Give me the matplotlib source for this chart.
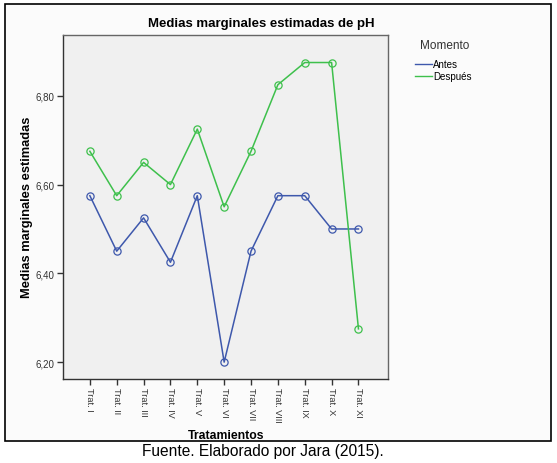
import matplotlib
matplotlib.use("Agg")
import matplotlib.pyplot as plt
from matplotlib.patches import Rectangle

plt.rcParams['font.family'] = ['Liberation Sans', 'DejaVu Sans']

categories = ["Trat. I", "Trat. II", "Trat. III", "Trat. IV", "Trat. V", "Trat. VI",
              "Trat. VII", "Trat. VIII", "Trat. IX", "Trat. X", "Trat. XI"]
antes = [6.575, 6.45, 6.525, 6.425, 6.575, 6.20, 6.45, 6.575, 6.575, 6.50, 6.50]
despues = [6.675, 6.575, 6.65, 6.60, 6.725, 6.55, 6.675, 6.825, 6.875, 6.875, 6.275]
yticks = [6.20, 6.40, 6.60, 6.80]
ytick_labels = ["6,20", "6,40", "6,60", "6,80"]

blue = "#3e58ac"
green = "#3ec04c"

fig = plt.figure(figsize=(5.57, 4.64), dpi=100)
fig.patch.set_facecolor("white")
fig.patches.append(Rectangle((5/557, 1-442/464), 546/557, 437/464, transform=fig.transFigure,
                             facecolor="#fbfbfb", edgecolor="black", linewidth=1.2, zorder=-5))

ax = fig.add_axes([63/557, 1-380/464, 325/557, 344/464])
ax.set_zorder(2)
ax.set_facecolor("#f0f0f0")
x = list(range(1, len(categories)+1))
ax.plot(x, antes, color=blue, lw=1.1, marker="o", mfc="none", mec=blue, ms=5.2, mew=0.9, label="Antes")
ax.plot(x, despues, color=green, lw=1.1, marker="o", mfc="none", mec=green, ms=5.2, mew=0.9, label="Después")

ax.set_xlim(0.0, 12.1)
ax.set_ylim(6.162, 6.937)
ax.set_xticks(x)
ax.set_xticklabels(categories, rotation=270, fontsize=6.6, color="#333333")
ax.set_yticks(yticks)
ax.set_yticklabels(ytick_labels, fontsize=7, color="#333333")
ax.tick_params(axis="both", direction="out", length=4, width=1, color="#333333", pad=2)
for s in ax.spines.values():
    s.set_color("#666666")
    s.set_linewidth(1.0)
ax.spines["bottom"].set_color("#333333")
ax.spines["left"].set_color("#333333")

ax.set_xlabel("Tratamientos", fontsize=8.8, fontweight="bold")
ax.xaxis.set_label_coords(226/557, 1-436/464, transform=fig.transFigure)
ax.set_ylabel("Medias marginales estimadas", fontsize=9.3, fontweight="bold")
ax.yaxis.set_label_coords(27/557, 1-207/464, transform=fig.transFigure)
ax.xaxis.label.set_va("center")
ax.yaxis.label.set_va("center")
fig.text(261/557, 1-24/464, "Medias marginales estimadas de pH", ha="center", va="center",
         fontsize=9.5, fontweight="bold")

fig.text(420/557, 1-46/464, "Momento", ha="left", va="center", fontsize=8.5, color="#333333")
leg = ax.legend(loc="upper left", bbox_to_anchor=(414/557, 1-59/464), bbox_transform=fig.transFigure,
                frameon=False, fontsize=7,
                handlelength=1.7, handletextpad=0.2, labelspacing=0.25, borderaxespad=0,
                borderpad=0.1)
for h in leg.get_lines():
    h.set_marker("")
    h.set_linewidth(1.0)

fig.text(263/557, 1-452/464, "Fuente. Elaborado por Jara (2015).", ha="center", va="center", fontsize=11.2)

fig.savefig("out.png", dpi=100, facecolor="white")
